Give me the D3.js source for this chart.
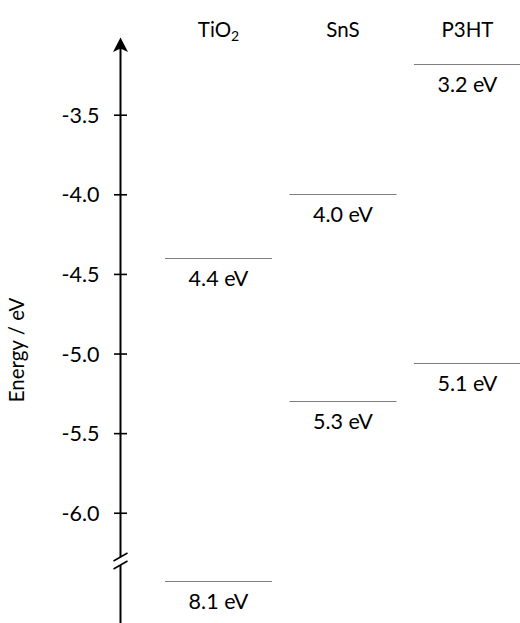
<!DOCTYPE html>
<html>
<head>
<meta charset="utf-8">
<script src="https://cdn.jsdelivr.net/npm/d3@7"></script>
<style>
  body { margin: 0; background: #fff; }
  text { font-family: Lato, "Open Sans", sans-serif; fill: #000; }
</style>
</head>
<body>
<div id="chart"></div>
<script>
// materials (columns)
const materials = ["TiO2", "SnS", "P3HT"];
// energy levels (eV), one upper and one lower per material
const upperLevels = [-4.4, -4.0, -3.18];
const lowerLevels = [-8.1, -5.3, -5.06];
const upperLabels = ["4.4 eV", "4.0 eV", "3.2 eV"];
const lowerLabels = ["8.1 eV", "5.3 eV", "5.1 eV"];
// axis ticks
const tickValues = [-3.5, -4.0, -4.5, -5.0, -5.5, -6.0];
const tickLabels = ["-3.5", "-4.0", "-4.5", "-5.0", "-5.5", "-6.0"];

const width = 520, height = 623;
const axisX = 120.5;
const fontSize = 21.5;

const svg = d3.select("#chart").append("svg")
    .attr("width", width)
    .attr("height", height);

// broken y scale: -3.0 .. -6.3, then a gap, then -8.0 .. -8.4
let y = d3.scaleLinear()
    .domain([-3.0, -6.3, -8.0, -8.4])
    .range([35.1, 560.5, 565.1, 628.8]);

let x = d3.scaleBand()
    .domain(materials)
    .range([165, 521])
    .paddingInner(0.14)
    .paddingOuter(0);

// y axis with ticks crossing the line
let axis = svg.append("g")
    .attr("transform", "translate(" + axisX + ",0)")
    .call(d3.axisLeft(y).tickValues(tickValues).tickSize(6.5)
        .tickFormat((d, i) => tickLabels[i]));
axis.select(".domain").remove();
axis.selectAll(".tick line")
    .attr("x1", -6.5).attr("x2", 6.5)
    .attr("stroke", "#000").attr("stroke-width", 1.6);
axis.selectAll(".tick text")
    .attr("x", -21)
    .attr("dy", "0.35em")
    .style("font-size", fontSize + "px")
    .style("font-family", "Lato, 'Open Sans', sans-serif")
    .attr("fill", "#000");

// axis line, broken near the bottom
let breakTop = 557, breakBottom = 565;
svg.append("line")
    .attr("x1", axisX).attr("x2", axisX)
    .attr("y1", 46).attr("y2", breakTop)
    .attr("stroke", "#000").attr("stroke-width", 2);
svg.append("line")
    .attr("x1", axisX).attr("x2", axisX)
    .attr("y1", breakBottom).attr("y2", height)
    .attr("stroke", "#000").attr("stroke-width", 2);
[breakTop, breakBottom].forEach(b => {
    svg.append("line")
        .attr("x1", axisX - 7).attr("y1", b + 4)
        .attr("x2", axisX + 7).attr("y2", b - 4)
        .attr("stroke", "#000").attr("stroke-width", 1.6);
});

// arrow head
svg.append("path")
    .attr("d", `M${axisX},37.5 L${axisX + 7.5},52 L${axisX},48.5 L${axisX - 7.5},52 Z`)
    .attr("fill", "#000");

// axis title
svg.append("text")
    .attr("transform", "translate(24,350) rotate(-90)")
    .attr("text-anchor", "middle")
    .style("font-size", "20.5px")
    .text("Energy / eV");

// column headers
let headers = svg.selectAll(".header")
    .data(materials)
    .enter().append("text")
    .attr("class", "header")
    .attr("x", d => x(d) + x.bandwidth() / 2)
    .attr("y", 37)
    .attr("text-anchor", "middle")
    .style("font-size", "20.5px");
headers.each(function(d) {
    let t = d3.select(this);
    if (d === "TiO2") {
        t.append("tspan").text("TiO");
        t.append("tspan").text("2").attr("dy", 4).style("font-size", "14px");
    } else {
        t.text(d);
    }
});

// energy levels
let levels = [];
materials.forEach((m, i) => {
    levels.push({m: m, v: upperLevels[i], label: upperLabels[i]});
    levels.push({m: m, v: lowerLevels[i], label: lowerLabels[i]});
});

svg.selectAll(".level")
    .data(levels)
    .enter().append("line")
    .attr("class", "level")
    .attr("x1", d => x(d.m))
    .attr("x2", d => x(d.m) + x.bandwidth())
    .attr("y1", d => Math.round(y(d.v)) + 0.5)
    .attr("y2", d => Math.round(y(d.v)) + 0.5)
    .attr("stroke", "#7f7f7f")
    .attr("stroke-width", 1);

svg.selectAll(".levelLabel")
    .data(levels)
    .enter().append("text")
    .attr("class", "levelLabel")
    .attr("x", d => x(d.m) + x.bandwidth() / 2)
    .attr("y", d => y(d.v) + 28)
    .attr("text-anchor", "middle")
    .style("font-size", fontSize + "px")
    .text(d => d.label);
</script>
</body>
</html>
